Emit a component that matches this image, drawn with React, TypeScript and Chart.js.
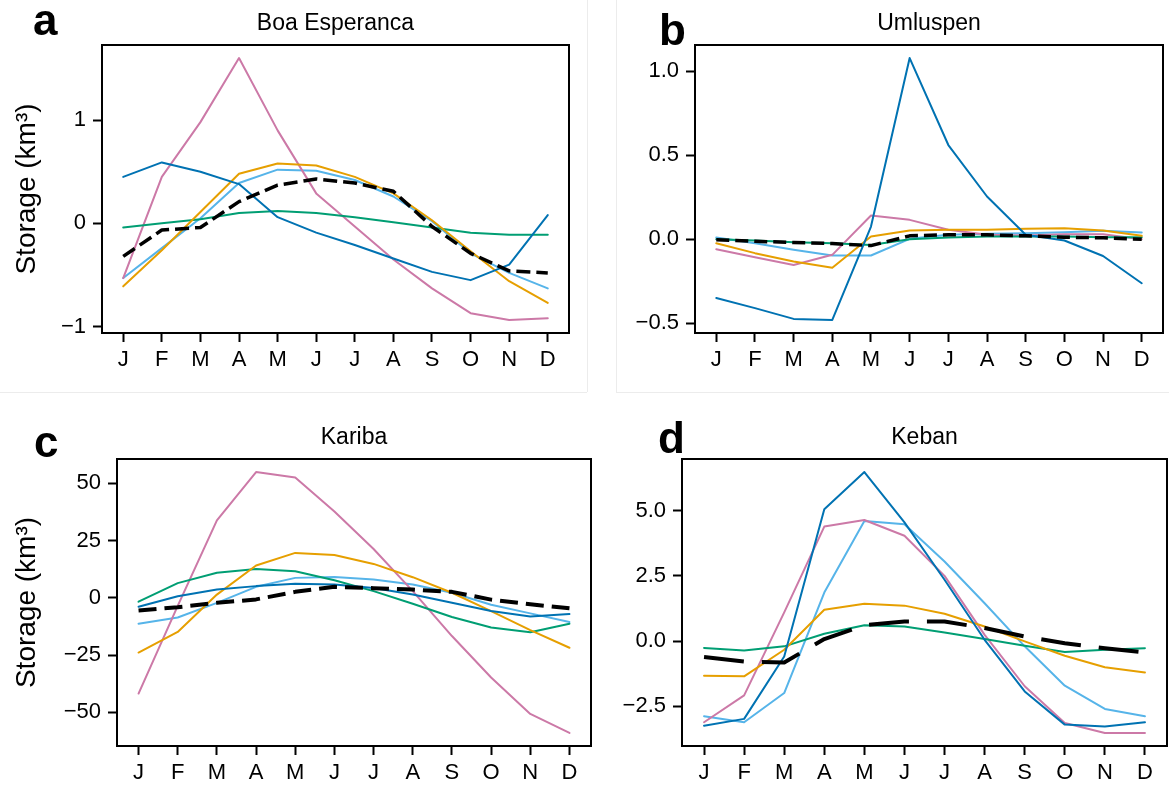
import React, { useEffect, useRef } from 'react';
import { Chart, registerables } from 'chart.js';

Chart.register(...registerables);

const FONT = '"Liberation Sans", Arial, Helvetica, sans-serif';
const PAGE_W = 1169;
const PAGE_H = 789;
const X_AXIS_H = 50;

const MONTHS = ['J', 'F', 'M', 'A', 'M', 'J', 'J', 'A', 'S', 'O', 'N', 'D'];

// Line colours, in the order the five series are listed for every reservoir
const COLORS = ['#0072B2', '#E69F00', '#009E73', '#CC79A7', '#56B4E9'];

// a — Boa Esperanca (km³)
const boaBlue = [0.45, 0.59, 0.5, 0.38, 0.06, -0.09, -0.21, -0.34, -0.47, -0.55, -0.4, 0.08];
const boaOrange = [-0.61, -0.26, 0.11, 0.48, 0.58, 0.56, 0.45, 0.29, 0.03, -0.27, -0.56, -0.77];
const boaGreen = [-0.04, 0.0, 0.04, 0.1, 0.12, 0.1, 0.06, 0.01, -0.04, -0.09, -0.11, -0.11];
const boaPink = [-0.53, 0.45, 0.98, 1.6, 0.9, 0.29, -0.03, -0.35, -0.63, -0.87, -0.935, -0.92];
const boaSky = [-0.53, -0.24, 0.05, 0.39, 0.52, 0.51, 0.42, 0.26, 0.02, -0.29, -0.48, -0.63];
const boaMean = [-0.32, -0.065, -0.04, 0.21, 0.37, 0.43, 0.39, 0.31, -0.03, -0.29, -0.46, -0.48];
const boaTicks = [-1, 0, 1];

// b — Umluspen (km³)
const umlBlue = [-0.35, -0.41, -0.474, -0.48, 0.075, 1.077, 0.56, 0.254, 0.026, -0.008, -0.1, -0.262];
const umlOrange = [-0.024, -0.083, -0.133, -0.17, 0.016, 0.052, 0.056, 0.056, 0.062, 0.065, 0.052, 0.02];
const umlGreen = [0.0, -0.008, -0.018, -0.024, -0.034, 0.0, 0.01, 0.016, 0.016, 0.016, 0.012, 0.012];
const umlPink = [-0.06, -0.107, -0.153, -0.093, 0.141, 0.115, 0.056, 0.026, 0.022, 0.03, 0.03, 0.0];
const umlSky = [0.01, -0.024, -0.063, -0.097, -0.097, 0.002, 0.026, 0.032, 0.036, 0.042, 0.05, 0.04];
const umlMean = [-0.004, -0.012, -0.02, -0.026, -0.038, 0.02, 0.026, 0.026, 0.02, 0.012, 0.008, 0.0];
const umlTicks = [-0.5, 0, 0.5, 1.0];

// c — Kariba (km³)
const karBlue = [-3.9, 0.7, 3.6, 5.1, 6.1, 5.8, 4.3, 1.4, -2.2, -5.8, -8.2, -7.1];
const karOrange = [-23.9, -14.9, 1.4, 14.1, 19.6, 18.7, 14.8, 9.0, 2.2, -5.8, -14.1, -21.8];
const karGreen = [-1.7, 6.4, 10.9, 12.6, 11.6, 7.7, 2.9, -2.6, -8.4, -13.0, -15.0, -11.3];
const karPink = [-41.8, -3.5, 33.8, 54.9, 52.5, 37.7, 21.3, 2.9, -16.7, -34.8, -50.7, -59.0];
const karSky = [-11.3, -8.6, -2.2, 4.8, 8.7, 9.1, 8.0, 5.8, 2.2, -3.0, -6.8, -10.6];
const karMean = [-5.5, -4.1, -2.2, -0.7, 2.6, 4.8, 4.2, 3.6, 2.6, -0.8, -2.8, -4.6];
const karTicks = [-50, -25, 0, 25, 50];

// d — Keban (km³)
const kebBlue = [-3.24, -2.98, -0.59, 5.05, 6.48, 4.55, 2.35, 0.05, -1.93, -3.2, -3.27, -3.11];
const kebOrange = [-1.33, -1.35, -0.33, 1.2, 1.43, 1.36, 1.05, 0.56, -0.01, -0.56, -1.0, -1.2];
const kebGreen = [-0.26, -0.36, -0.2, 0.28, 0.61, 0.56, 0.33, 0.08, -0.18, -0.42, -0.33, -0.27];
const kebPink = [-3.11, -2.08, 1.1, 4.39, 4.64, 4.04, 2.5, 0.24, -1.73, -3.14, -3.52, -3.52];
const kebSky = [-2.88, -3.11, -1.99, 1.86, 4.6, 4.48, 3.05, 1.45, -0.2, -1.71, -2.6, -2.88];
const kebMean = [-0.61, -0.78, -0.82, 0.08, 0.61, 0.75, 0.75, 0.5, 0.18, -0.08, -0.27, -0.43];
const kebTicks = [-2.5, 0, 2.5, 5.0];

type Box = { l: number; t: number; r: number; b: number };

type Panel = {
  letter: string;
  title: string;
  series: number[][];
  mean: number[];
  ticks: number[];
  decimals: number;
  yTitle?: string;
  box: Box;
  letterAt: { x: number; y: number };
  dash: number[];
  meanWidth: number;
};

const PANELS: Panel[] = [
  {
    letter: 'a',
    title: 'Boa Esperanca',
    series: [boaBlue, boaOrange, boaGreen, boaPink, boaSky],
    mean: boaMean,
    ticks: boaTicks,
    decimals: 0,
    yTitle: 'Storage (km³)',
    box: { l: 102, t: 45, r: 569, b: 333 },
    letterAt: { x: 33, y: 35 },
    dash: [14, 6],
    meanWidth: 3.5,
  },
  {
    letter: 'b',
    title: 'Umluspen',
    series: [umlBlue, umlOrange, umlGreen, umlPink, umlSky],
    mean: umlMean,
    ticks: umlTicks,
    decimals: 1,
    box: { l: 695, t: 45, r: 1163, b: 333 },
    letterAt: { x: 659, y: 45 },
    dash: [13, 6],
    meanWidth: 3.5,
  },
  {
    letter: 'c',
    title: 'Kariba',
    series: [karBlue, karOrange, karGreen, karPink, karSky],
    mean: karMean,
    ticks: karTicks,
    decimals: 0,
    yTitle: 'Storage (km³)',
    box: { l: 117, t: 459, r: 591, b: 746 },
    letterAt: { x: 34, y: 457 },
    dash: [18, 8],
    meanWidth: 4,
  },
  {
    letter: 'd',
    title: 'Keban',
    series: [kebBlue, kebOrange, kebGreen, kebPink, kebSky],
    mean: kebMean,
    ticks: kebTicks,
    decimals: 1,
    box: { l: 682, t: 459, r: 1167, b: 746 },
    letterAt: { x: 658, y: 453 },
    dash: [40, 18],
    meanWidth: 4,
  },
];

const formatTick = (v: number, decimals: number) => v.toFixed(decimals).replace('-', '\u2212');

const toPoints = (values: number[]) => values.map((y, x) => ({ x, y }));

function PanelChart({ panel }: { panel: Panel }) {
  const ref = useRef<HTMLCanvasElement>(null);

  useEffect(() => {
    const canvas = ref.current;
    if (!canvas) return;
    const p = panel;

    const all = [...p.series.flat(), ...p.mean];
    const lo = Math.min(...all);
    const hi = Math.max(...all);
    const margin = (hi - lo) * 0.05;
    const yAxisW = p.yTitle ? p.box.l : 70;

    // Box around the axes, the subplot title and the panel letter
    const decorations = {
      id: 'panelDecorations',
      afterDatasetsDraw(chart: Chart) {
        const { ctx, chartArea } = chart;
        ctx.save();
        ctx.strokeStyle = '#000';
        ctx.lineWidth = 2;
        ctx.strokeRect(chartArea.left, chartArea.top, chartArea.right - chartArea.left, chartArea.bottom - chartArea.top);
        ctx.fillStyle = '#000';
        ctx.font = `23px ${FONT}`;
        ctx.textAlign = 'center';
        ctx.textBaseline = 'alphabetic';
        ctx.fillText(p.title, (chartArea.left + chartArea.right) / 2, chartArea.top - 15);
        ctx.font = `bold 44px ${FONT}`;
        ctx.textAlign = 'left';
        ctx.fillText(p.letter, p.letterAt.x, p.letterAt.y);
        ctx.restore();
      },
    };

    const datasets = [
      {
        data: toPoints(p.mean),
        borderColor: '#000',
        borderWidth: p.meanWidth,
        borderDash: p.dash,
        borderCapStyle: 'butt' as const,
      },
      ...p.series.map((values, i) => ({
        data: toPoints(values),
        borderColor: COLORS[i],
        borderWidth: 2,
        borderCapStyle: 'round' as const,
      })),
    ].map((d) => ({
      ...d,
      pointRadius: 0,
      tension: 0,
      fill: false,
      borderJoinStyle: 'round' as const,
    }));

    const tickFont = { family: FONT, size: 22 };
    const axisGrid = {
      drawOnChartArea: false,
      drawTicks: true,
      tickLength: 9,
      tickWidth: 2,
      tickColor: '#000',
    };

    const chart = new Chart(canvas, {
      type: 'line',
      data: { datasets },
      options: {
        animation: false,
        responsive: false,
        events: [],
        layout: {
          padding: {
            left: p.box.l - yAxisW,
            top: p.box.t,
            right: PAGE_W - p.box.r,
            bottom: PAGE_H - p.box.b - X_AXIS_H,
          },
        },
        plugins: {
          legend: { display: false },
          tooltip: { enabled: false },
          title: { display: false },
        },
        scales: {
          x: {
            type: 'linear',
            min: -0.55,
            max: 11.55,
            afterBuildTicks: (scale: any) => {
              scale.ticks = MONTHS.map((_, i) => ({ value: i }));
            },
            afterFit: (scale: any) => {
              scale.height = X_AXIS_H;
            },
            ticks: {
              callback: (v: any) => MONTHS[Number(v)],
              font: tickFont,
              color: '#000',
              padding: 5,
              autoSkip: false,
              maxRotation: 0,
              minRotation: 0,
            },
            grid: axisGrid,
            border: { display: false },
          },
          y: {
            type: 'linear',
            min: lo - margin,
            max: hi + margin,
            afterBuildTicks: (scale: any) => {
              scale.ticks = p.ticks.map((value) => ({ value }));
            },
            afterFit: (scale: any) => {
              scale.width = yAxisW;
            },
            ticks: {
              callback: (v: any) => formatTick(Number(v), p.decimals),
              font: tickFont,
              color: '#000',
              padding: 7,
              autoSkip: false,
            },
            grid: axisGrid,
            border: { display: false },
            title: p.yTitle
              ? {
                  display: true,
                  text: p.yTitle,
                  color: '#000',
                  font: { family: FONT, size: 28 },
                  padding: { top: 10, bottom: 0 },
                }
              : { display: false },
          },
        },
      } as any,
      plugins: [decorations],
    });

    return () => chart.destroy();
  }, [panel]);

  return (
    <canvas
      ref={ref}
      width={PAGE_W}
      height={PAGE_H}
      style={{ position: 'absolute', left: 0, top: 0, width: PAGE_W, height: PAGE_H }}
    />
  );
}

const divider = (style: React.CSSProperties) => (
  <div style={{ position: 'absolute', background: '#ececec', ...style }} />
);

export default function App() {
  return (
    <div
      style={{
        position: 'absolute',
        left: 0,
        top: 0,
        width: PAGE_W,
        height: PAGE_H,
        overflow: 'hidden',
        background: '#fff',
      }}
    >
      {divider({ left: 587, top: 0, width: 1, height: 392 })}
      {divider({ left: 616, top: 0, width: 1, height: 392 })}
      {divider({ left: 0, top: 392, width: 587, height: 1 })}
      {divider({ left: 616, top: 392, width: PAGE_W - 616, height: 1 })}
      {PANELS.map((panel) => (
        <PanelChart key={panel.letter} panel={panel} />
      ))}
    </div>
  );
}
